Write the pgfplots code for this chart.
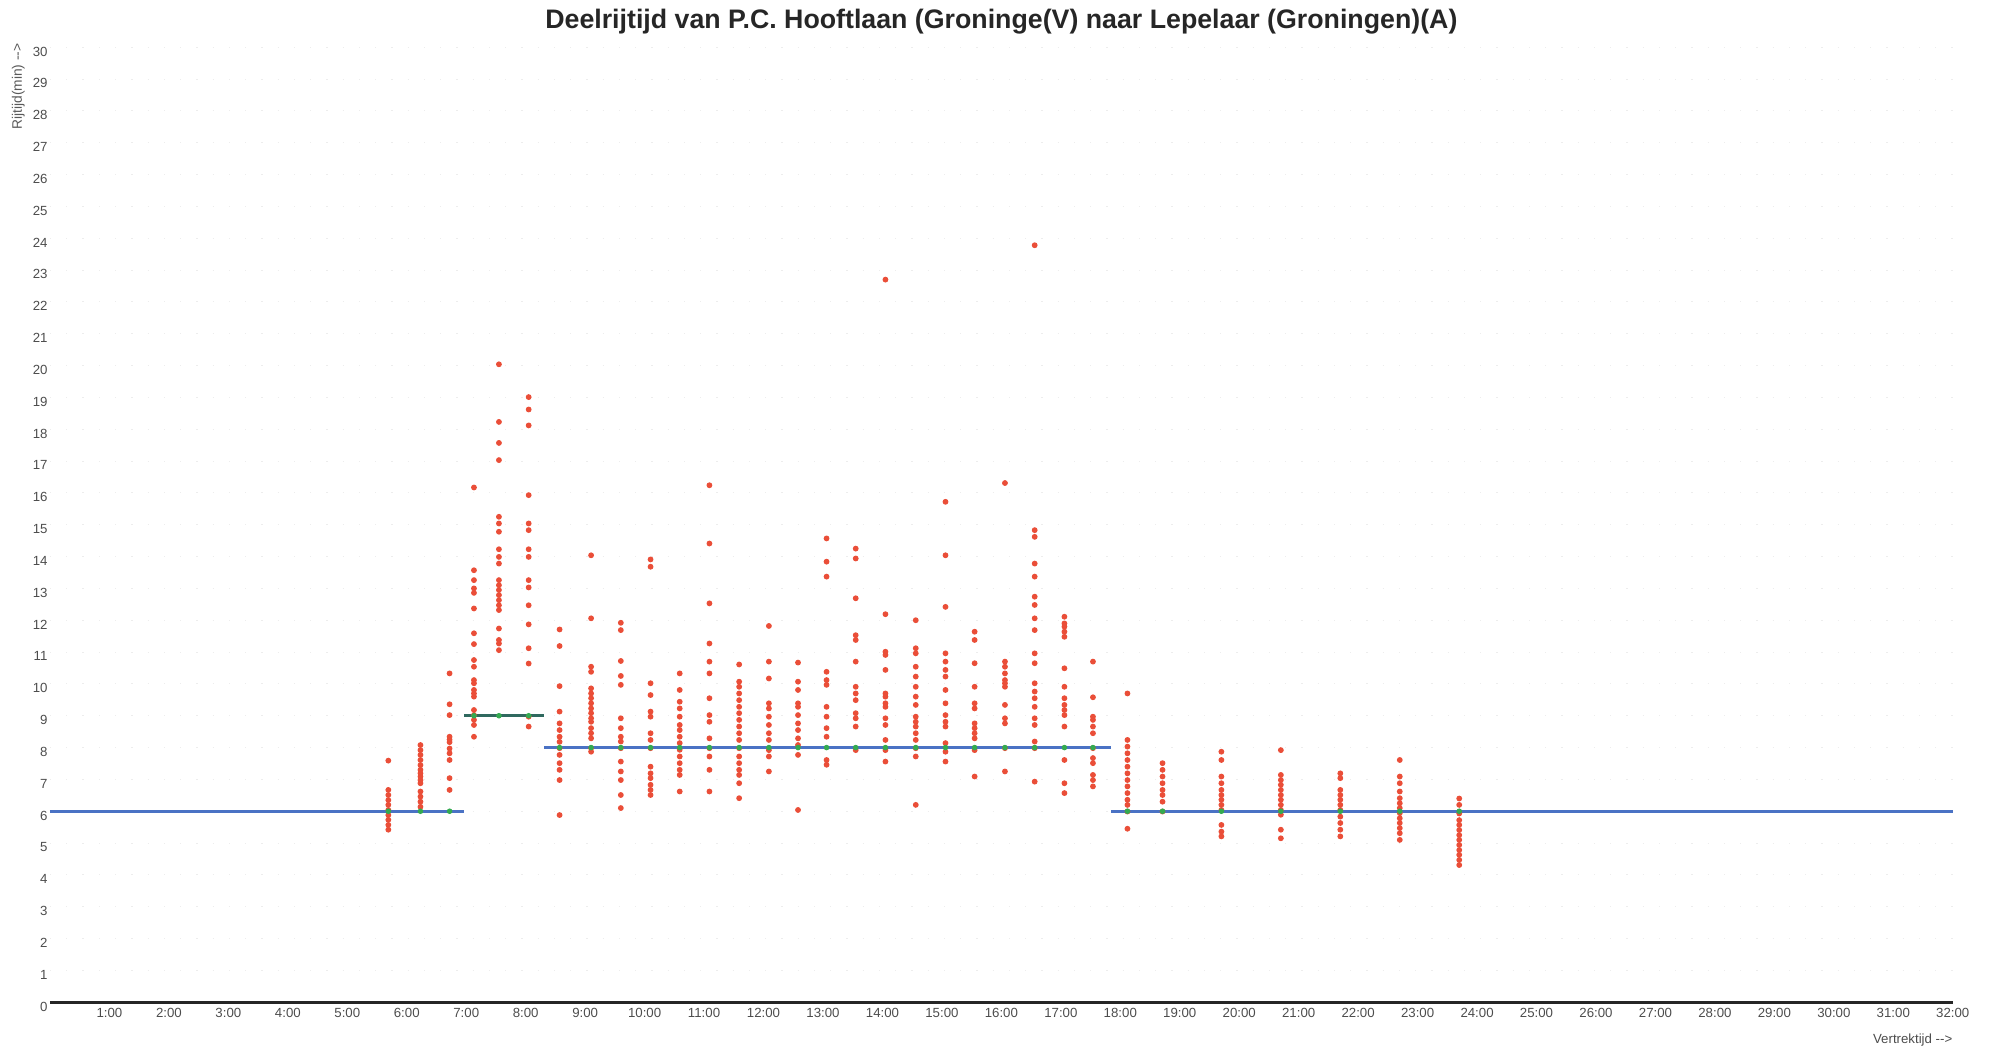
\documentclass[border=0pt]{standalone}
\usepackage{fontspec}
\setmainfont{Liberation Sans}
\usepackage{pgfplots}
\pgfplotsset{compat=1.18}
\definecolor{ptred}{RGB}{234,78,56}
\definecolor{lineblue}{RGB}{74,114,196}
\definecolor{lineteal}{RGB}{48,105,95}
\definecolor{mkgreen}{RGB}{52,170,80}
\begin{document}
\begin{tikzpicture}
\begin{axis}[
 scale only axis, width=761.1pt, height=382pt,
 xmin=0, xmax=32, ymin=0, ymax=30,
 axis x line=bottom, axis y line=left,
 x axis line style={-, line width=1.3pt, color=black!85},
 y axis line style={draw=none},
 major tick length=0pt,
 xtick={1,...,32},
 xticklabels={1:00,2:00,3:00,4:00,5:00,6:00,7:00,8:00,9:00,10:00,11:00,12:00,13:00,14:00,15:00,16:00,17:00,18:00,19:00,20:00,21:00,22:00,23:00,24:00,25:00,26:00,27:00,28:00,29:00,30:00,31:00,32:00},
 ytick={0,...,30},
 tick label style={font=\fontsize{5.3}{6}\selectfont, text=black!70},
 xticklabel style={anchor=north, inner sep=0pt, yshift=-2.4pt},
 yticklabel style={anchor=east, inner sep=0pt, xshift=-0.8pt, yshift=-1.7pt},
 /pgf/number format/assume math mode=true,
 ymajorgrids, major grid style={black!7, dash pattern=on 0.5pt off 6pt},
 clip=false,
]
% travel times (red points)
\addplot[only marks, mark=*, mark size=0.95pt, color=ptred, mark options={draw=ptred, fill=ptred}] coordinates {
(5.69,7.59)(5.69,6.67)(5.69,6.51)(5.69,6.35)(5.69,6.20)(5.69,6.04)(5.69,5.88)(5.69,5.73)(5.69,5.57)(5.69,5.42)
(6.23,8.08)(6.23,7.92)(6.23,7.77)(6.23,7.61)(6.23,7.45)(6.23,7.30)(6.23,7.19)(6.23,7.09)(6.23,6.98)(6.23,6.88)(6.23,6.62)(6.23,6.46)(6.23,6.30)(6.23,6.14)
(6.72,10.33)(6.72,9.36)(6.72,9.02)(6.72,8.34)(6.72,8.17)(6.72,7.97)(6.72,7.82)(6.72,7.61)(6.72,7.04)(6.72,6.67)(6.72,8.25)
(7.13,16.17)(7.13,13.57)(7.13,13.26)(7.13,13.00)(7.13,12.86)(7.13,12.37)(7.13,11.59)(7.13,11.25)(7.13,10.75)(7.13,10.54)(7.13,10.12)(7.13,10.02)(7.13,9.81)(7.13,9.70)(7.13,9.60)(7.13,9.18)(7.13,9.02)(7.13,8.87)(7.13,8.71)(7.13,8.34)
(7.55,20.04)(7.55,18.23)(7.55,17.57)(7.55,17.03)(7.55,15.25)(7.55,15.04)(7.55,14.78)(7.55,14.23)(7.55,13.99)(7.55,13.78)(7.55,13.26)(7.55,13.10)(7.55,12.95)(7.55,12.79)(7.55,12.63)(7.55,12.47)(7.55,12.32)(7.55,11.74)(7.55,11.38)(7.55,11.27)(7.55,11.06)
(8.05,19.01)(8.05,18.62)(8.05,18.12)(8.05,15.93)(8.05,15.04)(8.05,14.83)(8.05,14.23)(8.05,13.99)(8.05,13.26)(8.05,13.03)(8.05,12.47)(8.05,11.87)(8.05,11.12)(8.05,10.64)(8.05,8.97)(8.05,8.66)
(8.57,11.71)(8.57,11.19)(8.57,9.93)(8.57,9.13)(8.57,8.76)(8.57,8.55)(8.57,8.34)(8.57,8.18)(8.57,7.98)(8.57,7.77)(8.57,7.51)(8.57,7.30)(8.57,6.98)(8.57,5.88)
(9.10,14.04)(9.10,12.06)(9.10,10.54)(9.10,10.38)(9.10,9.86)(9.10,9.70)(9.10,9.55)(9.10,9.39)(9.10,9.23)(9.10,9.08)(9.10,8.92)(9.10,8.81)(9.10,8.61)(9.10,8.45)(9.10,8.29)(9.10,7.98)(9.10,7.87)
(9.60,11.92)(9.60,11.69)(9.60,10.72)(9.60,10.25)(9.60,9.97)(9.60,8.92)(9.60,8.61)(9.60,8.34)(9.60,8.19)(9.60,7.98)(9.60,7.56)(9.60,7.25)(9.60,6.98)(9.60,6.51)(9.60,6.10)
(10.10,13.91)(10.10,13.68)(10.10,10.02)(10.10,9.65)(10.10,9.13)(10.10,8.97)(10.10,8.45)(10.10,8.24)(10.10,7.98)(10.10,7.40)(10.10,7.19)(10.10,7.04)(10.10,6.83)(10.10,6.67)(10.10,6.51)
(10.59,10.33)(10.59,9.81)(10.59,9.44)(10.59,9.23)(10.59,8.97)(10.59,8.71)(10.59,8.55)(10.59,8.34)(10.59,8.14)(10.59,7.93)(10.59,7.72)(10.59,7.51)(10.59,7.30)(10.59,7.14)(10.59,6.62)
(11.09,16.24)(11.09,14.41)(11.09,12.53)(11.09,11.27)(11.09,10.70)(11.09,10.33)(11.09,9.55)(11.09,9.02)(11.09,8.81)(11.09,8.29)(11.09,7.98)(11.09,7.72)(11.09,7.30)(11.09,6.62)
(11.59,10.61)(11.59,10.07)(11.59,9.91)(11.59,9.70)(11.59,9.49)(11.59,9.28)(11.59,9.08)(11.59,8.87)(11.59,8.66)(11.59,8.45)(11.59,8.24)(11.59,7.98)(11.59,7.72)(11.59,7.51)(11.59,7.30)(11.59,7.14)(11.59,6.88)(11.59,6.41)
(12.09,11.82)(12.09,10.70)(12.09,10.17)(12.09,9.39)(12.09,9.23)(12.09,8.97)(12.09,8.71)(12.09,8.45)(12.09,8.24)(12.09,7.92)(12.09,7.72)(12.09,7.25)
(12.58,10.67)(12.58,10.07)(12.58,9.81)(12.58,9.39)(12.58,9.28)(12.58,9.02)(12.58,8.76)(12.58,8.55)(12.58,8.29)(12.58,8.08)(12.58,7.77)(12.58,6.04)
(13.06,14.57)(13.06,13.84)(13.06,13.37)(13.06,10.38)(13.06,10.12)(13.06,9.97)(13.06,9.28)(13.06,8.97)(13.06,8.61)(13.06,8.34)(13.06,7.61)(13.06,7.46)
(13.55,14.25)(13.55,13.94)(13.55,12.69)(13.55,11.53)(13.55,11.38)(13.55,10.70)(13.55,9.91)(13.55,9.70)(13.55,9.49)(13.55,9.08)(13.55,8.92)(13.55,8.66)(13.55,7.92)
(14.05,22.70)(14.05,12.19)(14.05,11.01)(14.05,10.91)(14.05,10.44)(14.05,9.70)(14.05,9.60)(14.05,9.39)(14.05,9.28)(14.05,8.92)(14.05,8.71)(14.05,8.24)(14.05,7.92)(14.05,7.56)
(14.56,12.00)(14.56,11.12)(14.56,10.96)(14.56,10.54)(14.56,10.23)(14.56,9.91)(14.56,9.60)(14.56,9.34)(14.56,8.97)(14.56,8.81)(14.56,8.66)(14.56,8.45)(14.56,8.24)(14.56,7.98)(14.56,7.72)(14.56,6.20)
(15.06,15.72)(15.06,14.04)(15.06,12.42)(15.06,10.96)(15.06,10.70)(15.06,10.44)(15.06,10.23)(15.06,9.81)(15.06,9.39)(15.06,9.02)(15.06,8.81)(15.06,8.66)(15.06,8.14)(15.06,7.87)(15.06,7.56)
(15.55,11.64)(15.55,11.38)(15.55,10.65)(15.55,9.91)(15.55,9.39)(15.55,9.23)(15.55,8.76)(15.55,8.61)(15.55,8.45)(15.55,8.29)(15.55,7.92)(15.55,7.09)
(16.06,16.31)(16.06,10.70)(16.06,10.54)(16.06,10.33)(16.06,10.12)(16.06,10.02)(16.06,9.91)(16.06,9.34)(16.06,8.92)(16.06,8.76)(16.06,7.98)(16.06,7.25)
(16.56,23.78)(16.56,14.83)(16.56,14.62)(16.56,13.78)(16.56,13.37)(16.56,12.74)(16.56,12.48)(16.56,12.06)(16.56,11.69)(16.56,10.96)(16.56,10.65)(16.56,10.02)(16.56,9.76)(16.56,9.55)(16.56,9.28)(16.56,8.92)(16.56,8.71)(16.56,8.19)(16.56,7.98)(16.56,6.93)
(17.06,12.11)(17.06,11.90)(17.06,11.80)(17.06,11.64)(17.06,11.48)(17.06,10.49)(17.06,9.91)(17.06,9.55)(17.06,9.34)(17.06,9.18)(17.06,9.02)(17.06,8.66)(17.06,7.61)(17.06,6.88)(17.06,6.57)
(17.54,10.70)(17.54,9.58)(17.54,8.97)(17.54,8.87)(17.54,8.66)(17.54,8.45)(17.54,7.98)(17.54,7.67)(17.54,7.51)(17.54,7.14)(17.54,6.98)(17.54,6.78)
(18.12,9.70)(18.12,8.24)(18.12,8.03)(18.12,7.82)(18.12,7.61)(18.12,7.40)(18.12,7.19)(18.12,6.98)(18.12,6.78)(18.12,6.57)(18.12,6.36)(18.12,6.20)(18.12,5.99)(18.12,5.45)
(18.71,7.51)(18.71,7.30)(18.71,7.09)(18.71,6.88)(18.71,6.67)(18.71,6.51)(18.71,6.30)(18.71,5.99)
(19.70,7.87)(19.70,7.61)(19.70,7.09)(19.70,6.88)(19.70,6.67)(19.70,6.51)(19.70,6.36)(19.70,6.20)(19.70,6.04)(19.70,5.57)(19.70,5.36)(19.70,5.21)
(20.70,7.92)(20.70,7.14)(20.70,6.98)(20.70,6.83)(20.70,6.67)(20.70,6.51)(20.70,6.36)(20.70,6.20)(20.70,6.04)(20.70,5.89)(20.70,5.42)(20.70,5.15)
(21.70,7.19)(21.70,7.04)(21.70,6.67)(21.70,6.51)(21.70,6.36)(21.70,6.20)(21.70,6.04)(21.70,5.83)(21.70,5.63)(21.70,5.42)(21.70,5.21)
(22.70,7.61)(22.70,7.09)(22.70,6.88)(22.70,6.62)(22.70,6.41)(22.70,6.25)(22.70,6.10)(22.70,5.94)(22.70,5.78)(22.70,5.63)(22.70,5.47)(22.70,5.31)(22.70,5.10)
(23.70,6.40)(23.70,6.20)(23.70,5.93)(23.70,5.72)(23.70,5.57)(23.70,5.41)(23.70,5.25)(23.70,5.10)(23.70,4.94)(23.70,4.78)(23.70,4.63)(23.70,4.47)(23.70,4.31)
};
% reference travel time (step line)
\addplot[lineblue, line width=1.3pt] coordinates {(0,6) (6.97,6)};
\addplot[lineteal, line width=1.3pt] coordinates {(6.97,9) (8.31,9)};
\addplot[lineblue, line width=1.3pt] coordinates {(8.31,8) (17.85,8)};
\addplot[lineblue, line width=1.3pt] coordinates {(17.85,6) (32,6)};
% green markers on the line
\addplot[only marks, mark=*, mark size=0.9pt, color=mkgreen, mark options={draw=mkgreen, fill=mkgreen}] coordinates {
(5.69,6)(6.23,6)(6.72,6)(7.13,9)(7.55,9)(8.05,9)
(8.57,8)(9.10,8)(9.60,8)(10.10,8)(10.59,8)(11.09,8)(11.59,8)(12.09,8)(12.58,8)(13.06,8)(13.55,8)(14.05,8)(14.56,8)(15.06,8)(15.55,8)(16.06,8)(16.56,8)(17.06,8)(17.54,8)
(18.12,6)(18.71,6)(19.70,6)(20.70,6)(21.70,6)(22.70,6)(23.70,6)
};
\node[font=\bfseries\fontsize{10.7}{12}\selectfont, text=black!85] at (rel axis cs:0.5,1) [yshift=10.3pt] {Deelrijtijd van P.C. Hooftlaan (Groninge(V) naar Lepelaar (Groningen)(A)};
\node[xshift=-12.7pt, yshift=-15.7pt, rotate=90, font=\fontsize{5.5}{6}\selectfont, text=black!65] at (rel axis cs:0,1) {Rijtijd(min) -\kern0pt-\kern0pt>};
\node[anchor=east, font=\fontsize{5.3}{6}\selectfont, text=black!70, inner sep=0pt] at (rel axis cs:1,0) [yshift=-15.1pt] {Vertrektijd -\kern0pt-\kern0pt>};
\end{axis}
\pgfresetboundingbox
\path[use as bounding box] (current axis.south west) ++(-20pt,-18.3pt) rectangle ++(797.2pt,419.2pt);
\end{tikzpicture}
\end{document}
